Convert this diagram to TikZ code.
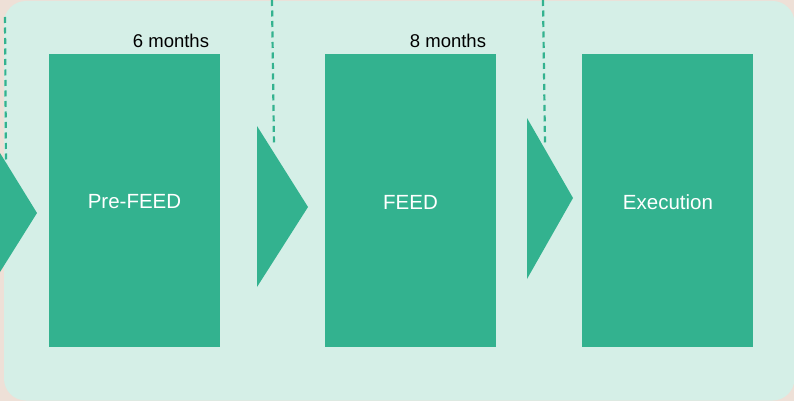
\documentclass[tikz,border=0pt]{standalone}
\usepackage{fontspec}
\setmainfont{Liberation Sans}
\definecolor{peach}{RGB}{238,224,215}
\definecolor{mint}{RGB}{213,239,231}
\definecolor{teal}{RGB}{51,178,143}
\begin{document}
\begin{tikzpicture}[x=1pt,y=-1pt,
  phase/.style={fill=teal,draw=none,minimum width=171pt,minimum height=293pt,inner sep=0pt,text=white,font=\fontsize{20.5}{24}\selectfont},
  lbl/.style={text=white,font=\fontsize{20.5}{24}\selectfont},
  dur/.style={font=\fontsize{18.5}{22}\selectfont,text=black,inner sep=0pt},
  chev/.style={fill=teal,draw=none},
  guide/.style={draw=teal,line width=2.2pt,dash pattern=on 6pt off 4.5pt}]
\useasboundingbox (0,0) rectangle (794,401);
\fill[peach] (0,0) rectangle (794,401);
\fill[mint,rounded corners=22pt] (4,1) rectangle (794.5,400.5);
% dashed guides
\coordinate (g1a) at (5,17); \coordinate (g1b) at (6,165);
\coordinate (g2a) at (272,0); \coordinate (g2b) at (274,146);
\coordinate (g3a) at (543,0); \coordinate (g3b) at (545,143);
\draw[guide] (g1a) -- (g1b);
\draw[guide] (g2a) -- (g2b);
\draw[guide] (g3a) -- (g3b);
% chevrons
\fill[chev] (0,153) -- (37,213) -- (0,272) -- cycle;
\fill[chev] (257,126) -- (308,207) -- (257,287) -- cycle;
\fill[chev] (527,118) -- (573,198) -- (527,279) -- cycle;
% phases
\node[phase] (pre) at (134.5,200.5) {};
\node[phase] (feed) at (410.5,200.5) {};
\node[phase] (exe) at (667.5,200.5) {};
\node[lbl] (preL) at (134.5,202) {Pre-FEED};
\node[lbl] (feedL) at (410.5,202) {FEED};
\node[lbl] (exeL) at (668,202) {Execution};
\node[dur] (m6) at (171,41) {6 months};
\node[dur] (m8) at (448,41) {8 months};
\end{tikzpicture}
\end{document}
